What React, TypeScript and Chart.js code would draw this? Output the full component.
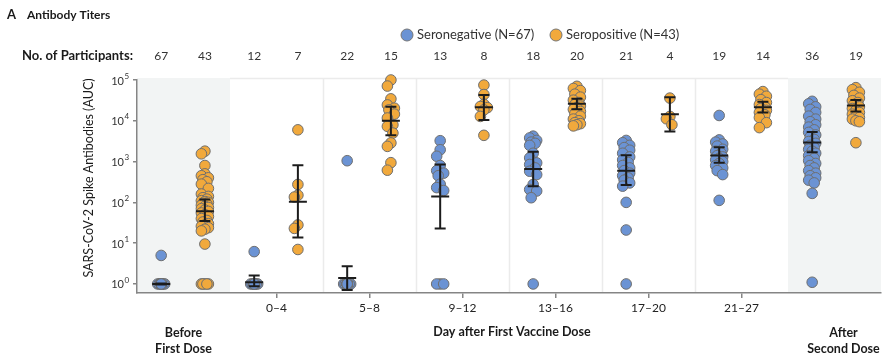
import React, { useEffect, useRef } from "react";
import { Chart, registerables } from "chart.js";
Chart.register(...registerables);

const FONT = "Lato, 'Open Sans', sans-serif";

const groupNames = ["Before First Dose", "0–4", "5–8", "9–12", "13–16", "17–20", "21–27", "After Second Dose"];
const tickLabels = ["0–4", "5–8", "9–12", "13–16", "17–20", "21–27"];
const nNeg = [67, 12, 22, 13, 18, 21, 19, 36];
const nPos = [43, 7, 15, 8, 20, 4, 14, 19];

// Seronegative values per group
const negBefore = [5,
  1, 1, 1, 1, 1, 1, 1, 1, 1, 1, 1, 1, 1, 1, 1, 1, 1, 1, 1, 1, 1, 1,
  1, 1, 1, 1, 1, 1, 1, 1, 1, 1, 1, 1, 1, 1, 1, 1, 1, 1, 1, 1, 1, 1,
  1, 1, 1, 1, 1, 1, 1, 1, 1, 1, 1, 1, 1, 1, 1, 1, 1, 1, 1, 1, 1, 1];
const neg0to4 = [6.2, 1, 1, 1, 1, 1, 1, 1, 1, 1, 1, 1];
const neg5to8 = [1050, 1, 1, 1, 1, 1, 1, 1, 1, 1, 1, 1, 1, 1, 1, 1, 1, 1, 1, 1, 1, 1];
const neg9to12 = [3250, 1950, 1350, 800, 600, 520, 450, 280, 230, 195, 1, 1, 1];
const neg13to16 = [4200, 3800, 3300, 3000, 2800, 2500, 1600, 1230, 930, 850, 700, 580, 480, 275, 207, 190, 130, 1];
const neg17to20 = [3300, 2900, 2500, 2200, 1900, 1600, 1300, 1100, 950, 800, 700, 600, 520, 450, 400, 350, 300, 250, 100, 21, 1];
const neg21to27 = [13500, 3400, 3000, 2700, 2400, 2000, 1800, 1600, 1400, 1300, 1200, 1100, 1000, 900, 800, 700, 600, 480, 112];
const negAfter = [30000, 26000, 22000, 19000, 16000, 13000, 11000, 9500, 8000, 7000, 6000, 5200, 4500, 4000, 3500, 3100,
  2800, 2500, 2200, 2000, 1800, 1600, 1400, 1200, 1050, 900, 800, 700, 600, 520, 450, 400, 350, 300, 166, 1.1];

// Seropositive values per group
const posBefore = [1800, 1550, 800, 500, 450, 400, 360, 320, 280, 220, 160, 140, 130, 120, 110, 105, 100, 95, 90, 85,
  80, 75, 70, 65, 60, 55, 50, 45, 40, 36, 33, 30, 28, 26, 24, 22, 20, 9.5, 1, 1, 1, 1, 1];
const pos0to4 = [6000, 275, 150, 135, 28, 23, 7];
const pos5to8 = [100000, 71000, 34500, 24500, 20400, 18500, 14600, 11700, 8000, 7300, 5000, 2870, 2360, 940, 615];
const pos9to12 = [75000, 44000, 25500, 22400, 21000, 18500, 12800, 4400];
const pos13to16 = [70000, 62000, 55000, 45000, 38000, 32000, 28000, 25000, 23000, 21000, 19000, 17000, 15000, 13000,
  11000, 10000, 9000, 8500, 8000, 7500];
const pos17to20 = [36000, 12800, 11200, 8000];
const pos21to27 = [52000, 45000, 40000, 33000, 28000, 25000, 22000, 20000, 18000, 16000, 14000, 12000, 9000, 6800];
const posAfter = [65000, 58000, 50000, 42000, 36000, 31000, 28000, 25000, 22000, 20000, 18000, 16000, 14500, 13000,
  12000, 11000, 10000, 9500, 2900];

const negValues = [negBefore, neg0to4, neg5to8, neg9to12, neg13to16, neg17to20, neg21to27, negAfter];
const posValues = [posBefore, pos0to4, pos5to8, pos9to12, pos13to16, pos17to20, pos21to27, posAfter];

// Geometric means and 95% CI
const negGM = [1, 1.1, 1.4, 140, 660, 600, 1400, 2950];
const negLo = [0.97, 0.88, 0.71, 23, 250, 265, 930, 1700];
const negHi = [1.03, 1.6, 2.7, 850, 1730, 1420, 2240, 5300];
const posGM = [61, 104, 10000, 21500, 26000, 14500, 21500, 23700];
const posLo = [35, 13.8, 4400, 10500, 19300, 5500, 16000, 17000];
const posHi = [118, 810, 22000, 43000, 34500, 38000, 29500, 32500];

const BLUE = "#6b93d4";
const ORANGE = "#f1a93c";
const NEG_OFF = 0.26;
const POS_OFF = 0.73;
const Y_MIN = Math.pow(10, -8 / 41);
const Y_MAX = 1e5;

// approximate pixel scale, used only to spread overlapping dots
const PX_X = 93;
const PX_DEC = 41;
function swarm(vals: number[], base: number) {
  const placed: { dx: number; py: number }[] = [];
  const cands = [0, -2, 2, -3.5, 3.5];
  return vals.map((v) => {
    const py = Math.log10(v) * PX_DEC;
    let best = 0;
    let bestD = -1;
    for (const c of cands) {
      let md = Infinity;
      for (const p of placed) {
        const d = Math.hypot(p.dx - c, p.py - py);
        if (d < md) md = d;
      }
      if (md >= 8) { best = c; bestD = md; break; }
      if (md > bestD) { bestD = md; best = c; }
    }
    placed.push({ dx: best, py });
    return { x: base + best / PX_X, y: v };
  });
}

const bgPlugin = {
  id: "bg",
  beforeDraw(chart: any) {
    const { ctx, chartArea, scales } = chart;
    const x = scales.x;
    ctx.save();
    ctx.fillStyle = "#ffffff";
    ctx.fillRect(0, 0, chart.width, chart.height);
    const top = chartArea.top - 2;
    const bottom = chartArea.bottom;
    for (let i = 0; i < groupNames.length; i++) {
      const l = x.getPixelForValue(i);
      const r = x.getPixelForValue(i + 1);
      if (i === 0 || i === groupNames.length - 1) {
        ctx.fillStyle = "#f2f4f4";
        ctx.fillRect(l, top, r - l, bottom - top);
      }
    }
    ctx.strokeStyle = "#ebebeb";
    ctx.lineWidth = 1.5;
    for (let i = 2; i < groupNames.length - 1; i++) {
      const px = Math.round(x.getPixelForValue(i)) + 0.5;
      ctx.beginPath();
      ctx.moveTo(px, top);
      ctx.lineTo(px, bottom);
      ctx.stroke();
    }
    ctx.beginPath();
    ctx.moveTo(x.getPixelForValue(1), top + 0.5);
    ctx.lineTo(x.getPixelForValue(7), top + 0.5);
    ctx.stroke();
    ctx.restore();
  },
};

const errPlugin = {
  id: "err",
  afterDatasetsDraw(chart: any) {
    const { ctx, scales } = chart;
    const x = scales.x;
    const y = scales.y;
    ctx.save();
    ctx.strokeStyle = "#1c1c1c";
    ctx.lineWidth = 2;
    const draw = (cx: number, gm: number, lo: number, hi: number) => {
      const px = x.getPixelForValue(cx);
      const yg = y.getPixelForValue(gm);
      const yl = y.getPixelForValue(lo);
      const yh = y.getPixelForValue(hi);
      ctx.beginPath();
      ctx.moveTo(px, yh);
      ctx.lineTo(px, yl);
      ctx.moveTo(px - 5.5, yh);
      ctx.lineTo(px + 5.5, yh);
      ctx.moveTo(px - 5.5, yl);
      ctx.lineTo(px + 5.5, yl);
      ctx.moveTo(px - 9, yg);
      ctx.lineTo(px + 9, yg);
      ctx.stroke();
    };
    for (let i = 0; i < groupNames.length; i++) {
      draw(i + NEG_OFF, negGM[i], negLo[i], negHi[i]);
      draw(i + POS_OFF, posGM[i], posLo[i], posHi[i]);
    }
    ctx.restore();
  },
};

const textPlugin = {
  id: "texts",
  afterDraw(chart: any) {
    const { ctx, scales } = chart;
    const x = scales.x;
    const y = scales.y;
    ctx.save();
    ctx.fillStyle = "#1a1a1a";
    ctx.textBaseline = "alphabetic";
    ctx.textAlign = "left";
    ctx.font = `bold 13px ${FONT}`;
    ctx.fillText("A", 7, 19);
    ctx.font = `bold 12px ${FONT}`;
    ctx.fillText("Antibody Titers", 27, 19);

    // legend
    const legend = [
      { cx: 407, label: "Seronegative (N=67)", color: BLUE },
      { cx: 556, label: "Seropositive (N=43)", color: ORANGE },
    ];
    ctx.textBaseline = "middle";
    for (const it of legend) {
      ctx.beginPath();
      ctx.arc(it.cx, 35, 6, 0, Math.PI * 2);
      ctx.fillStyle = it.color;
      ctx.fill();
      ctx.strokeStyle = "#777";
      ctx.lineWidth = 1;
      ctx.stroke();
      ctx.fillStyle = "#333";
      ctx.font = `13px ${FONT}`;
      ctx.fillText(it.label, it.cx + 10, 35);
    }

    // participants
    ctx.fillStyle = "#1a1a1a";
    ctx.font = `bold 13px ${FONT}`;
    ctx.textAlign = "left";
    ctx.fillText("No. of Participants:", 22, 56);
    ctx.font = `12px ${FONT}`;
    ctx.fillStyle = "#333";
    ctx.textAlign = "center";
    for (let i = 0; i < groupNames.length; i++) {
      ctx.fillText(String(nNeg[i]), x.getPixelForValue(i + NEG_OFF), 56);
      ctx.fillText(String(nPos[i]), x.getPixelForValue(i + POS_OFF), 56);
    }

    // y tick labels 10^n
    ctx.fillStyle = "#333";
    for (let e = 0; e <= 5; e++) {
      const py = y.getPixelForValue(Math.pow(10, e));
      ctx.textAlign = "right";
      ctx.font = `11px ${FONT}`;
      ctx.fillText("10", 124, py + 1);
      ctx.textAlign = "left";
      ctx.font = `8px ${FONT}`;
      ctx.fillText(String(e), 124.5, py - 4);
    }

    // y title
    ctx.save();
    ctx.translate(89, 178);
    ctx.rotate(-Math.PI / 2);
    ctx.textAlign = "center";
    ctx.fillStyle = "#1a1a1a";
    ctx.font = `12.5px ${FONT}`;
    ctx.fillText("SARS-CoV-2 Spike Antibodies (AUC)", 0, 0);
    ctx.restore();

    // bottom labels
    ctx.fillStyle = "#1a1a1a";
    ctx.textAlign = "center";
    ctx.font = `bold 12.5px ${FONT}`;
    const c0 = x.getPixelForValue(0.5);
    const c7 = x.getPixelForValue(7.5) + 9;
    ctx.fillText("Before", c0, 333);
    ctx.fillText("First Dose", c0, 349);
    ctx.fillText("After", c7, 333);
    ctx.fillText("Second Dose", c7, 349);
    ctx.fillText("Day after First Vaccine Dose", (x.getPixelForValue(1) + x.getPixelForValue(7)) / 2 + 3, 332);
    ctx.restore();
  },
};

export default function App() {
  const ref = useRef<HTMLCanvasElement | null>(null);
  useEffect(() => {
    document.body.style.margin = "0";
    const negData = negValues.flatMap((vals, i) => swarm(vals, i + NEG_OFF));
    const posData = posValues.flatMap((vals, i) => swarm(vals, i + POS_OFF));
    const chart = new Chart(ref.current as HTMLCanvasElement, {
      type: "scatter",
      data: {
        datasets: [
          {
            label: "Seronegative (N=67)",
            data: negData,
            backgroundColor: BLUE,
            borderColor: "#6f6f6f",
            borderWidth: 1,
            pointRadius: 5.3,
            clip: false,
          } as any,
          {
            label: "Seropositive (N=43)",
            data: posData,
            backgroundColor: ORANGE,
            borderColor: "#6f6f6f",
            borderWidth: 1,
            pointRadius: 5.3,
            clip: false,
          } as any,
        ],
      },
      options: {
        animation: false,
        responsive: false,
        devicePixelRatio: 1,
        layout: { padding: { left: 0, top: 80, right: 11, bottom: 0 } },
        plugins: { legend: { display: false }, tooltip: { enabled: false } },
        scales: {
          x: {
            type: "linear",
            min: 0,
            max: 8,
            afterBuildTicks: (scale: any) => {
              scale.ticks = tickLabels.map((_, i) => ({ value: i + 1.5 }));
            },
            afterFit: (scale: any) => {
              scale.height = 68;
            },
            ticks: {
              autoSkip: false,
              maxRotation: 0,
              padding: 3,
              color: "#222",
              font: { family: FONT, size: 12 },
              callback: (_v: any, idx: number) => tickLabels[idx],
            },
            grid: { display: true, drawOnChartArea: false, drawTicks: true, tickLength: 5, color: "#858585", lineWidth: 1.5 },
            border: { display: true, color: "#858585", width: 1.5 },
          },
          y: {
            type: "logarithmic",
            min: Y_MIN,
            max: Y_MAX,
            afterBuildTicks: (scale: any) => {
              scale.ticks = [1, 10, 100, 1000, 10000, 100000].map((v) => ({ value: v }));
            },
            afterFit: (scale: any) => {
              scale.width = 137;
            },
            ticks: { display: false },
            grid: { display: true, drawOnChartArea: false, drawTicks: true, tickLength: 4, color: "#858585", lineWidth: 1.5 },
            border: { display: true, color: "#858585", width: 1.5 },
          },
        },
      },
      plugins: [bgPlugin, errPlugin, textPlugin],
    });
    return () => chart.destroy();
  }, []);
  return (
    <div style={{ position: "absolute", left: 0, top: 0, width: 892, height: 361 }}>
      <canvas ref={ref} width={892} height={361} />
    </div>
  );
}
